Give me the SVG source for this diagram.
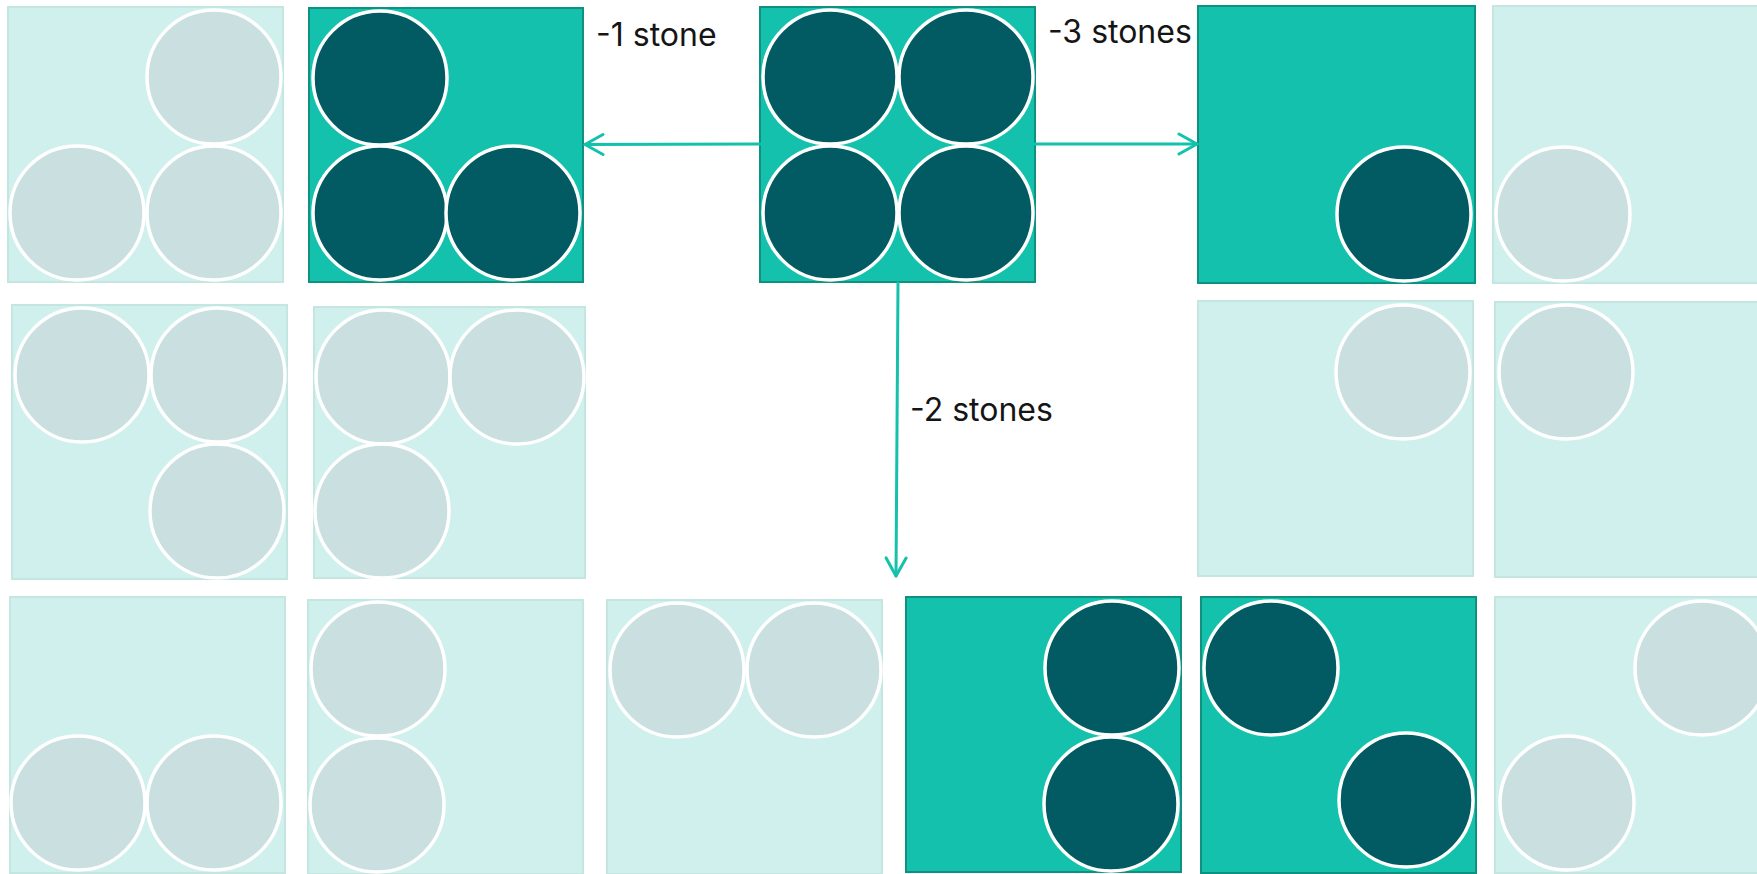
<svg xmlns="http://www.w3.org/2000/svg" width="1757" height="874" viewBox="0 0 1757 874">
<style>
.lb{fill:#cff0ec;stroke:#c4e6e1;stroke-width:2}
.db{fill:#13c1ad;stroke:#0e917f;stroke-width:2}
.lc{fill:#cadfe0;stroke:#ffffff;stroke-width:3.5}
.dc{fill:#025b62;stroke:#ffffff;stroke-width:3.5}
.lbl{font-family:Inter,"Liberation Sans",sans-serif;font-size:32px;fill:#151515}
.ar{fill:none;stroke:#13c1ad;stroke-width:3;stroke-linecap:round;stroke-linejoin:round}
</style>
<defs>
<marker id="chev" viewBox="-20 -12 22 24" markerWidth="22" markerHeight="24" refX="0" refY="0" orient="auto" markerUnits="userSpaceOnUse">
<path d="M-18,-10 L0,0 L-18,10" fill="none" stroke="#13c1ad" stroke-width="3" stroke-linecap="round" stroke-linejoin="round"/>
</marker>
</defs>
<rect width="1757" height="874" fill="#ffffff"/>
<g id="boardA"><rect class="lb" x="8" y="7" width="275" height="275"/><circle class="lc" cx="214" cy="77" r="67"/><circle class="lc" cx="77" cy="213" r="67"/><circle class="lc" cx="214" cy="213" r="67"/></g>
<g id="boardB"><rect class="db" x="309" y="8" width="274" height="274"/><circle class="dc" cx="380" cy="78" r="67"/><circle class="dc" cx="380" cy="213" r="67"/><circle class="dc" cx="513" cy="213" r="67"/></g>
<g id="boardC"><rect class="db" x="760" y="7" width="275" height="275"/><circle class="dc" cx="830" cy="77" r="67"/><circle class="dc" cx="966" cy="77" r="67"/><circle class="dc" cx="830" cy="213" r="67"/><circle class="dc" cx="966" cy="213" r="67"/></g>
<g id="boardD"><rect class="db" x="1198" y="6" width="277" height="277"/><circle class="dc" cx="1404" cy="214" r="67"/></g>
<g id="boardE"><rect class="lb" x="1493" y="6" width="277" height="277"/><circle class="lc" cx="1563" cy="214" r="67"/></g>
<g id="boardF"><rect class="lb" x="12" y="305" width="275" height="274"/><circle class="lc" cx="82" cy="375" r="67"/><circle class="lc" cx="218" cy="375" r="67"/><circle class="lc" cx="217" cy="511" r="67"/></g>
<g id="boardG"><rect class="lb" x="314" y="307" width="271" height="271"/><circle class="lc" cx="383" cy="377" r="67"/><circle class="lc" cx="517" cy="377" r="67"/><circle class="lc" cx="382" cy="511" r="67"/></g>
<g id="boardH"><rect class="lb" x="1198" y="301" width="275" height="275"/><circle class="lc" cx="1403" cy="372" r="67"/></g>
<g id="boardI"><rect class="lb" x="1495" y="302" width="275" height="275"/><circle class="lc" cx="1566" cy="372" r="67"/></g>
<g id="boardJ"><rect class="lb" x="10" y="597" width="275" height="276"/><circle class="lc" cx="78" cy="803" r="67"/><circle class="lc" cx="214" cy="803" r="67"/></g>
<g id="boardK"><rect class="lb" x="308" y="600" width="275" height="274"/><circle class="lc" cx="378" cy="669" r="67"/><circle class="lc" cx="377" cy="805" r="67"/></g>
<g id="boardL"><rect class="lb" x="607" y="600" width="275" height="274"/><circle class="lc" cx="677" cy="670" r="67"/><circle class="lc" cx="814" cy="670" r="67"/></g>
<g id="boardM"><rect class="db" x="906" y="597" width="275" height="275"/><circle class="dc" cx="1112" cy="668" r="67"/><circle class="dc" cx="1111" cy="804" r="67"/></g>
<g id="boardN"><rect class="db" x="1201" y="597" width="275" height="276"/><circle class="dc" cx="1271" cy="668" r="67"/><circle class="dc" cx="1406" cy="800" r="67"/></g>
<g id="boardO"><rect class="lb" x="1495" y="597" width="275" height="276"/><circle class="lc" cx="1702" cy="668" r="67"/><circle class="lc" cx="1567" cy="803" r="67"/></g>
<g id="connectors">
<line class="ar" x1="760" y1="144" x2="585" y2="144.5" marker-end="url(#chev)"/>
<line class="ar" x1="1035" y1="144" x2="1197" y2="144" marker-end="url(#chev)"/>
<line class="ar" x1="898" y1="283" x2="896" y2="576" marker-end="url(#chev)"/>
</g>
<g id="labels">
<text class="lbl" x="596" y="46">-1 stone</text>
<text class="lbl" x="1048" y="43">-3 stones</text>
<text class="lbl" x="910" y="421">-2 stones</text>
</g>
</svg>
